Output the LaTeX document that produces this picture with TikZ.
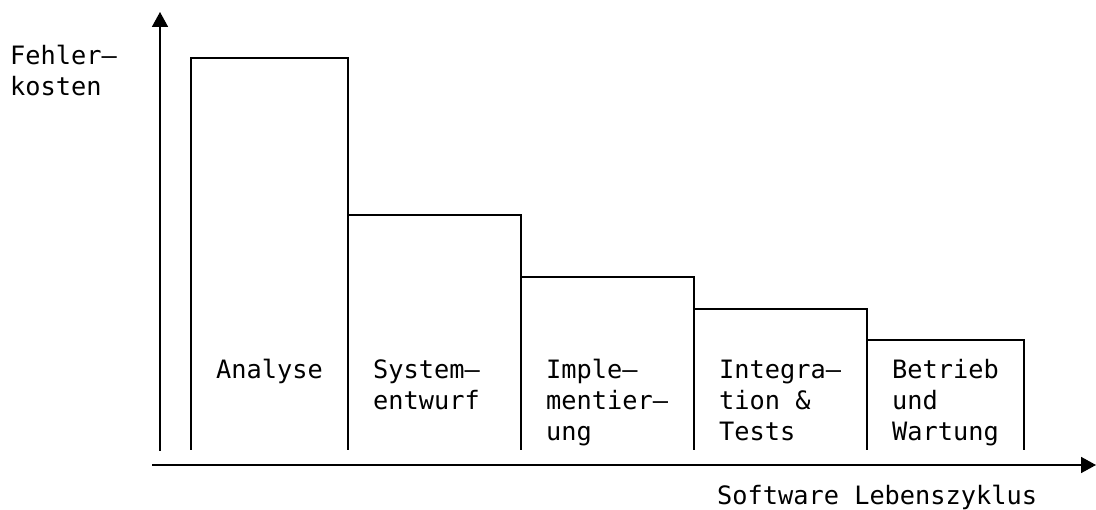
\documentclass[tikz,border=0pt]{standalone}
\usepackage{fontspec}
\setmainfont{DejaVu Sans Mono}
\usetikzlibrary{arrows.meta}

\tikzset{
  axis/.style={line width=1.7pt, -{Triangle[length=15pt,width=16pt]}},
  phase/.style={line width=1.7pt, line join=miter},
  % multi-line labels: the base anchor sits on the last line
  lbl/.style={anchor=base west, inner sep=0pt, align=left,
    font=\fontsize{25.3}{31}\selectfont},
}

\begin{document}
\begin{tikzpicture}[x=1pt, y=-1pt]
  \useasboundingbox (0,0) rectangle (1096,510);

  % cost bars of the life-cycle phases (open at the bottom)
  \draw[phase] (191,450) -- (191,58)  -- (348,58)  -- (348,450);
  \draw[phase] (348,215) -- (521,215) -- (521,450);
  \draw[phase] (521,277) -- (694,277) -- (694,450);
  \draw[phase] (694,309) -- (867,309) -- (867,450);
  \draw[phase] (867,340) -- (1024,340) -- (1024,450);

  % axes
  \coordinate (yfoot) at (160,451);
  \coordinate (ytip)  at (160,12);
  \coordinate (xfoot) at (152,465);
  \coordinate (xtip)  at (1096,465);
  \draw[axis] (yfoot) -- (ytip);
  \draw[axis] (xfoot) -- (xtip);

  % axis labels
  \node[lbl] (ylabel) at (10,96)  {Fehler—\\kosten};
  \node[lbl] (xlabel) at (717,505) {Software Lebenszyklus};

  % phase labels
  \node[lbl] (analyse) at (216,379) {Analyse};
  \node[lbl] (system)  at (373,410) {System—\\entwurf};
  \node[lbl] (impl)    at (546,441) {Imple—\\mentier—\\ung};
  \node[lbl] (integ)   at (719,441) {Integra—\\tion \&\\Tests};
  \node[lbl] (betrieb) at (892,441) {Betrieb\\und\\Wartung};
\end{tikzpicture}
\end{document}
